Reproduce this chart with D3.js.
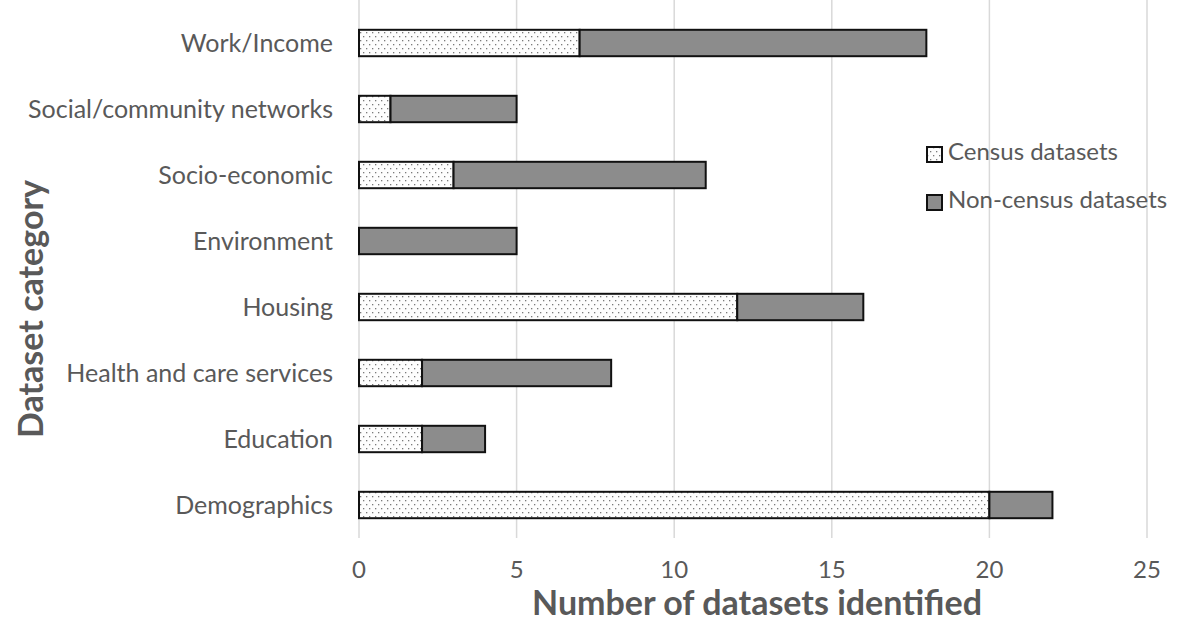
<!DOCTYPE html>
<html>
<head>
<meta charset="utf-8">
<script src="https://cdn.jsdelivr.net/npm/d3@7"></script>
<style>
  html, body { margin: 0; padding: 0; background: #fff; }
  svg { display: block; font-family: Lato, "Open Sans", sans-serif; }
</style>
</head>
<body>
<svg id="chart" width="1178" height="623"></svg>
<script>
// Dataset categories, top to bottom
const categories = [
  "Work/Income",
  "Social/community networks",
  "Socio-economic",
  "Environment",
  "Housing",
  "Health and care services",
  "Education",
  "Demographics"
];
const censusValues    = [7, 1, 3, 0, 12, 2, 2, 20];
const nonCensusValues = [11, 4, 8, 5, 4, 6, 2, 2];
const xTicks = [0, 5, 10, 15, 20, 25];
const seriesNames = ["Census datasets", "Non-census datasets"];

const svg = d3.select("#chart");
const margin = { left: 359, right: 31, top: 10, bottom: 85 };
const W = 1178, H = 623;

const x = d3.scaleLinear().domain([0, 25]).range([margin.left, W - margin.right]);
const y = d3.scaleBand().domain(categories).range([margin.top, H - margin.bottom]).paddingInner(0.6).paddingOuter(0.3);

// Dotted fill for census bars
const defs = svg.append("defs");
const pat = defs.append("pattern")
  .attr("id", "dots").attr("patternUnits", "userSpaceOnUse")
  .attr("width", 6).attr("height", 8);
pat.append("rect").attr("width", 6).attr("height", 8).attr("fill", "#fdfdfd");
pat.append("rect").attr("x", 0).attr("y", 0).attr("width", 1.3).attr("height", 1.3).attr("fill", "#7a7a7a");
pat.append("rect").attr("x", 3).attr("y", 4).attr("width", 1.3).attr("height", 1.3).attr("fill", "#7a7a7a");

// Vertical gridlines
svg.append("g").selectAll("line").data(xTicks).join("line")
  .attr("x1", d => x(d)).attr("x2", d => x(d))
  .attr("y1", 0).attr("y2", H - margin.bottom)
  .attr("stroke", "#d9d9d9").attr("stroke-width", 1.5);

// Stacked bars
const rows = categories.map((c, i) => ({ c, census: censusValues[i], non: nonCensusValues[i] }));
const bars = svg.append("g");
rows.forEach(r => {
  if (r.census > 0) {
    bars.append("rect")
      .attr("x", x(0)).attr("y", y(r.c))
      .attr("width", x(r.census) - x(0)).attr("height", y.bandwidth())
      .attr("fill", "url(#dots)").attr("stroke", "#111").attr("stroke-width", 2);
  }
  if (r.non > 0) {
    bars.append("rect")
      .attr("x", x(r.census)).attr("y", y(r.c))
      .attr("width", x(r.census + r.non) - x(r.census)).attr("height", y.bandwidth())
      .attr("fill", "#8c8c8c").attr("stroke", "#111").attr("stroke-width", 2);
  }
});

// Category labels
svg.append("g").selectAll("text").data(categories).join("text")
  .attr("x", 333).attr("y", d => y(d) + y.bandwidth() / 2)
  .attr("dy", "0.35em").attr("text-anchor", "end")
  .attr("font-size", 25).attr("fill", "#595959")
  .text(d => d);

// X tick labels
svg.append("g").selectAll("text").data(xTicks).join("text")
  .attr("x", d => x(d)).attr("y", 578)
  .attr("text-anchor", "middle")
  .attr("font-size", 24).attr("fill", "#595959")
  .text(d => d);

// Axis titles
svg.append("text")
  .attr("x", 757).attr("y", 615)
  .attr("text-anchor", "middle").attr("font-size", 34).attr("font-weight", "bold")
  .attr("fill", "#595959").text("Number of datasets identified");
svg.append("text")
  .attr("transform", "translate(43,309) rotate(-90)")
  .attr("text-anchor", "middle").attr("font-size", 34).attr("font-weight", "bold")
  .attr("fill", "#595959").text("Dataset category");

// Legend
const legend = svg.append("g").attr("transform", "translate(927,147)");
seriesNames.forEach((name, i) => {
  const g = legend.append("g").attr("transform", `translate(0,${i * 48})`);
  g.append("rect").attr("x", 0).attr("y", 0).attr("width", 15).attr("height", 15)
    .attr("fill", i === 0 ? "url(#dots)" : "#8c8c8c").attr("stroke", "#111").attr("stroke-width", 2);
  g.append("text").attr("x", 21).attr("y", 13)
    .attr("font-size", 24).attr("fill", "#595959").text(name);
});
</script>
</body>
</html>
